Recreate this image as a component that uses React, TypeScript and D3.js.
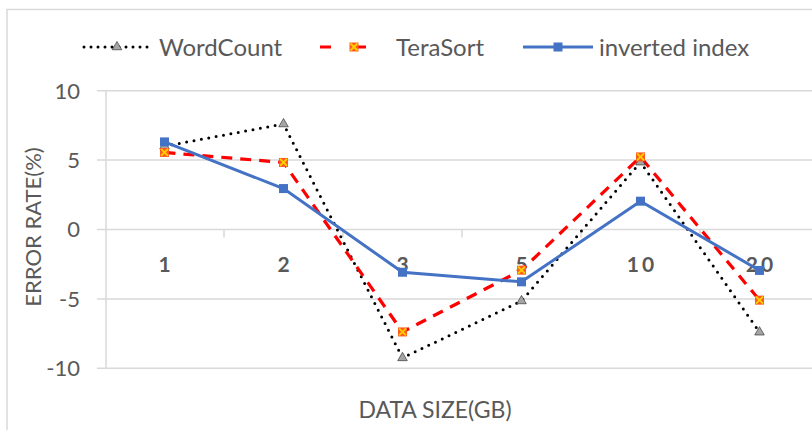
import React from "react";
import * as d3 from "d3";

const categories = ["1", "2", "3", "5", "10", "20"];
const wordCount = [6.0, 7.6, -9.25, -5.15, 4.85, -7.4];
const teraSort = [5.55, 4.83, -7.38, -2.93, 5.23, -5.09];
const invertedIndex = [6.31, 2.95, -3.08, -3.77, 2.04, -2.95];
const yTicks = [10, 5, 0, -5, -10];
const seriesNames = ["WordCount", "TeraSort", "inverted index"];

const FONT = "Lato, 'Open Sans', sans-serif";
const GRID = "#d9d9d9";
const TXT = "#595959";

export default function App() {
  const W = 812, H = 430;
  const plotL = 105, plotR = 819;
  const x = d3.scaleBand<string>().domain(categories).range([plotL, plotR]);
  const y = d3.scaleLinear().domain([-10, 10]).range([368.3, 90.7]);
  const cx = (c: string) => (x(c) as number) + x.bandwidth() / 2;
  const line = d3
    .line<number>()
    .x((_, i) => cx(categories[i]))
    .y((d) => y(d));

  const tri = d3.symbol().type(d3.symbolTriangle).size(40)();

  const wcMarker = (px: number, py: number, k: string | number) => (
    <path key={k} d={tri as string} transform={`translate(${px},${py})`} fill="#a5a5a5" stroke="#222" strokeWidth={0.6} />
  );
  const tsMarker = (px: number, py: number, k: string | number) => (
    <g key={k} transform={`translate(${px},${py})`}>
      <rect x={-4.5} y={-4.5} width={9} height={9} fill="#ff5a1a" />
      <path d="M-3.5,-3.5L3.5,3.5M3.5,-3.5L-3.5,3.5" stroke="#ffd000" strokeWidth={1.8} />
    </g>
  );
  const iiMarker = (px: number, py: number, k: string | number) => (
    <rect key={k} x={px - 4.5} y={py - 4.5} width={9} height={9} fill="#4472c4" />
  );

  const legendY = 47;

  return (
    <svg width={W} height={H} style={{ position: "absolute", left: 0, top: 0, display: "block" }} fontFamily={FONT}>
      <rect x={0} y={0} width={W} height={H} fill="#fff" />
      <rect x={7} y={9.5} width={W + 20} height={H + 20} fill="none" stroke={GRID} strokeWidth={1.5} />

      {/* gridlines */}
      {yTicks.map((t) => (
        <line key={t} x1={97} x2={plotR} y1={y(t)} y2={y(t)} stroke={GRID} strokeWidth={1.5} />
      ))}
      <line x1={plotL + 1} x2={plotL + 1} y1={y(10)} y2={y(-10)} stroke={GRID} strokeWidth={1.5} />
      {/* category ticks at zero line */}
      {categories.slice(1).map((c) => (
        <line key={c} x1={x(c) as number} x2={x(c) as number} y1={y(0)} y2={y(0) + 8} stroke={GRID} strokeWidth={1.5} />
      ))}

      {/* y tick labels */}
      {yTicks.map((t) => (
        <text key={t} x={80} y={y(t)} dy="0.36em" textAnchor="end" fontSize={22} fill={TXT}>
          {t}
        </text>
      ))}

      {/* category labels */}
      {categories.map((c) => (
        <text key={c} x={cx(c) + 1.5} y={272} textAnchor="middle" fontSize={21} fontWeight="bold" fill={TXT} letterSpacing={3}>
          {c}
        </text>
      ))}

      {/* axis titles */}
      <text transform={`translate(41,227) rotate(-90)`} textAnchor="middle" fontSize={22} fill={TXT}>
        ERROR RATE(%)
      </text>
      <text x={435} y={418} textAnchor="middle" fontSize={23} fill={TXT}>
        DATA SIZE(GB)
      </text>

      {/* series lines */}
      <path d={line(wordCount) as string} fill="none" stroke="#000" strokeWidth={3} strokeDasharray="0 7.5" strokeLinecap="round" />
      <path d={line(teraSort) as string} fill="none" stroke="#ff0000" strokeWidth={3.2} strokeDasharray="11 8" />
      <path d={line(invertedIndex) as string} fill="none" stroke="#4472c4" strokeWidth={3} />

      {wordCount.map((v, i) => wcMarker(cx(categories[i]), y(v), i))}
      {teraSort.map((v, i) => tsMarker(cx(categories[i]), y(v), i))}
      {invertedIndex.map((v, i) => iiMarker(cx(categories[i]), y(v), i))}

      {/* legend */}
      <g>
        <line x1={84} x2={150} y1={legendY} y2={legendY} stroke="#000" strokeWidth={3} strokeDasharray="0 7" strokeLinecap="round" />
        {wcMarker(117, legendY, "lw")}
        <text x={159} y={legendY} dy="0.36em" fontSize={24} fill={TXT}>{seriesNames[0]}</text>

        <line x1={320} x2={390} y1={legendY} y2={legendY} stroke="#ff0000" strokeWidth={3.2} strokeDasharray="11 24" />
        {tsMarker(354, legendY, "lt")}
        <text x={396} y={legendY} dy="0.36em" fontSize={24} fill={TXT}>{seriesNames[1]}</text>

        <line x1={523} x2={593} y1={legendY} y2={legendY} stroke="#4472c4" strokeWidth={3} />
        {iiMarker(558, legendY, "li")}
        <text x={599} y={legendY} dy="0.36em" fontSize={24} fill={TXT}>{seriesNames[2]}</text>
      </g>
    </svg>
  );
}
